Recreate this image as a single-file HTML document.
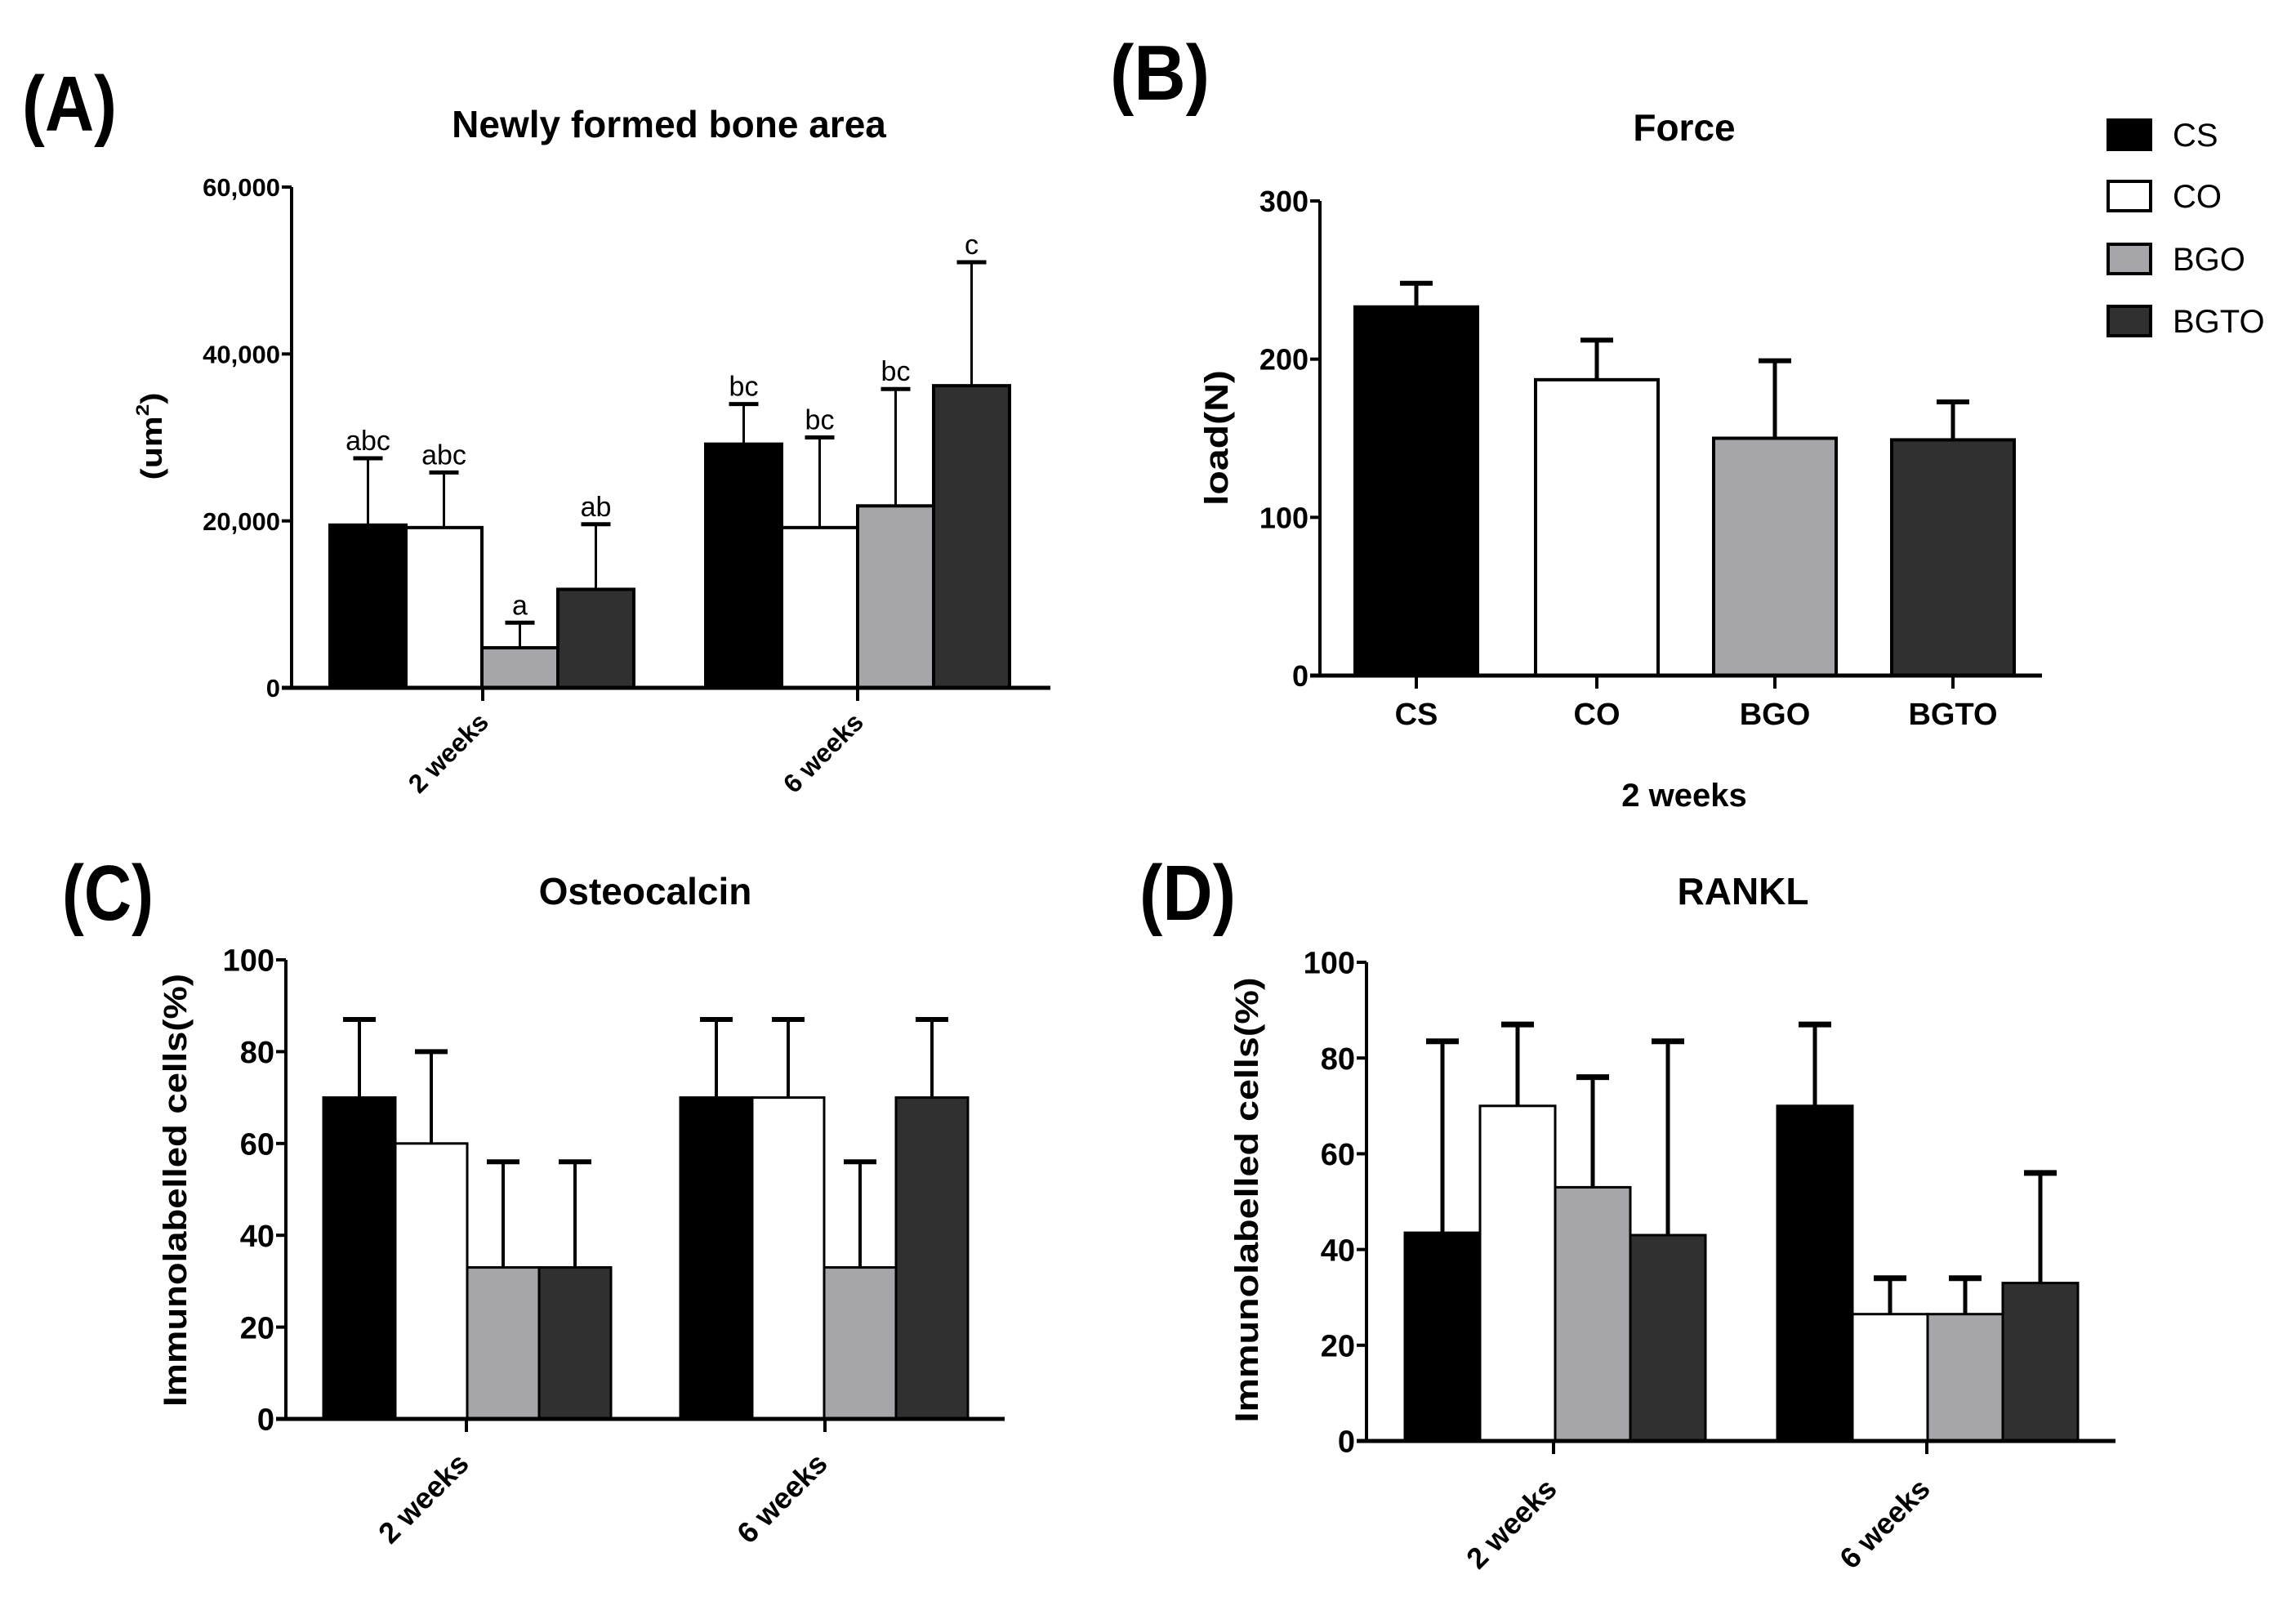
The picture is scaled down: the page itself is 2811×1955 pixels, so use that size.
<!DOCTYPE html>
<html><head><meta charset="utf-8"><style>
html,body{margin:0;padding:0;background:#fff;}
svg{display:block;font-family:"Liberation Sans",Arial,sans-serif;}
</style></head><body>
<svg id="fig" width="2811" height="1955" viewBox="0 0 2811 1955" xmlns="http://www.w3.org/2000/svg">
<rect width="2811" height="1955" fill="#fff"/>
<text x="27" y="160" font-size="96" font-weight="bold" textLength="116" lengthAdjust="spacingAndGlyphs">(A)</text>
<text x="1359" y="122" font-size="96" font-weight="bold" textLength="122" lengthAdjust="spacingAndGlyphs">(B)</text>
<text x="76" y="1126" font-size="96" font-weight="bold" textLength="112" lengthAdjust="spacingAndGlyphs">(C)</text>
<text x="1395" y="1126" font-size="96" font-weight="bold" textLength="118" lengthAdjust="spacingAndGlyphs">(D)</text>
<g id="legend"></g>
</svg>
<script>
// ---- data ----
const seriesNames = ["CS","CO","BGO","BGTO"];
const groupsTime = ["2 weeks","6 weeks"];
// Panel A: newly formed bone area
const aTicks = [0,20000,40000,60000];
const aTickLabels = ["0","20,000","40,000","60,000"];
const aMeans = [[19500,19200,4800,11800],[29200,19200,21800,36200]];
const aErrTop = [[27500,25800,7800,19600],[34000,30000,35800,51000]];
const aLetters = [["abc","abc","a","ab"],["bc","bc","bc","c"]];
// Panel B: force
const bTicks = [0,100,200,300];
const bMeans = [233,187,150,149];
const bErrTop = [248,212,199,173];
// Panel C: osteocalcin
const pctTicks = [0,20,40,60,80,100];
const cMeans = [[70,60,33,33],[70,70,33,70]];
const cErrTop = [[87,80,56,56],[87,87,56,87]];
// Panel D: RANKL
const dMeans = [[43.5,70,53,43],[70,26.5,26.5,33]];
const dErrTop = [[83.5,87,76,83.5],[87,34,34,56]];

const fills = ["#000000","#ffffff","#a6a5a9","#303030"];
const NS = "http://www.w3.org/2000/svg";
const svg = document.getElementById('fig');
function el(tag, attrs, parent, txt){
  const e = document.createElementNS(NS, tag);
  for (const k in attrs) e.setAttribute(k, attrs[k]);
  if (txt !== undefined) e.textContent = txt;
  (parent||svg).appendChild(e);
  return e;
}
function yScale(p, v){ return p.y0 - (v - p.vmin)/(p.vmax - p.vmin)*(p.y0 - p.y1); }

function drawPanel(p){
  const g = el('g', {}, svg);
  
  
  // title
  const t = el('text', {x:p.titleX, y:p.titleY, 'font-size':p.titleSize, 'font-weight':'bold', 'text-anchor':'middle'}, g, p.title);
  
  
  // bars
  p.bars.forEach(b => {
    const yt = yScale(p, b.v);
    const ye = yScale(p, b.e);
    const cx = b.x + b.w/2;
    const ln = el('line', {x1:cx, x2:cx, y1:yt, y2:ye, stroke:'#000', 'stroke-width':p.errW}, g);
    
    
    const cap = el('line', {x1:cx-p.capW/2, x2:cx+p.capW/2, y1:ye, y2:ye, stroke:'#000', 'stroke-width':p.capH}, g);
    
    
    const r = el('rect', {x:b.x, y:yt, width:b.w, height:p.y0-yt, fill:fills[b.s], stroke:'#000', 'stroke-width':p.barStroke}, g);
    
    
    if (b.letter){
      const lt = el('text', {x:cx, y:ye-10, 'font-size':34, 'text-anchor':'middle'}, g, b.letter);
      
      
    }
  });
  // axes
  const ya = el('line', {x1:p.x0, x2:p.x0, y1:p.y1, y2:p.y0+2, stroke:'#000', 'stroke-width':4}, g);
  
  
  const xa = el('line', {x1:p.x0-12, x2:p.xEnd, y1:p.y0, y2:p.y0, stroke:'#000', 'stroke-width':5}, g);
  
  
  p.ticks.forEach((v,i) => {
    const y = yScale(p, v);
    const tk = el('line', {x1:p.x0-12, x2:p.x0, y1:y, y2:y, stroke:'#000', 'stroke-width':4}, g);
    
    
    const tl = el('text', {x:p.x0-14, y:y+p.tickSize*0.36, 'font-size':p.tickSize, 'font-weight':'bold', 'text-anchor':'end', 'font-family':'"Liberation Sans Narrow","Liberation Sans",sans-serif'}, g, p.tickLabels[i]);
    
    
  });
  // x ticks + labels
  p.xTicks.forEach((xt,i) => {
    const tk = el('line', {x1:xt, x2:xt, y1:p.y0, y2:p.y0+16, stroke:'#000', 'stroke-width':4}, g);
    
    
    let tl;
    if (p.rotate){
      const bx = xt + p.rot[0], by = p.y0 + p.rot[1];
      tl = el('text', {x:bx, y:by, 'font-size':p.xSize, 'font-weight':'bold', 'text-anchor':'end', transform:`rotate(-45 ${bx} ${by})`}, g, p.xLabels[i]);
    } else {
      tl = el('text', {x:xt, y:p.y0+60, 'font-size':p.xSize, 'font-weight':'bold', 'text-anchor':'middle'}, g, p.xLabels[i]);
    }
    
    
  });
  // y title
  const yt = el('text', {x:p.yTitleX, y:p.yTitleY, 'font-size':p.yTitleSize, 'font-weight':'bold', 'text-anchor':'middle', transform:`rotate(-90 ${p.yTitleX} ${p.yTitleY})`, textLength:p.yTitleLen, lengthAdjust:'spacingAndGlyphs'}, g);
  
  
  if (p.yTitleSup){
    el('tspan', {}, yt, '(um');
    el('tspan', {'font-size':22, dy:-16}, yt, '2');
    el('tspan', {dy:16}, yt, ')');
  } else yt.textContent = p.yTitle;
  if (p.xTitle){
    const xt = el('text', {x:p.xTitleX, y:p.xTitleY, 'font-size':40, 'font-weight':'bold', 'text-anchor':'middle'}, g, p.xTitle);
    
    
  }
}

function groupedBars(means, errs, letters, starts, barW){
  const out = [];
  means.forEach((grp, gi) => grp.forEach((v, si) => {
    out.push({x:starts[gi] + si*barW, w:barW, v:v, e:errs[gi][si], s:si, label:groupsTime[gi].replace(' ','')+'-'+seriesNames[si], letter: letters ? letters[gi][si] : null});
  }));
  return out;
}

// Panel A
drawPanel({name:'panel-a-bone-area', title:'Newly formed bone area', titleX:819, titleY:168, titleSize:46,
  x0:357, xEnd:1286, y0:842, y1:229, vmin:0, vmax:60000, ticks:aTicks, tickLabels:aTickLabels, tickSize:31,
  bars:groupedBars(aMeans, aErrTop, aLetters, [404,864], 93), errW:3, capW:36, capH:5, barStroke:4,
  xTicks:[591,1050], xLabels:groupsTime, rotate:true, rot:[9,44], xSize:32,
  yTitleX:198, yTitleY:534, yTitleSize:36, yTitleLen:107, yTitleSup:true});

// Panel B
const bBars = bMeans.map((v,i)=>({x:[1659,1880,2098,2316][i], w:150, v:v, e:bErrTop[i], s:i, label:seriesNames[i]}));
drawPanel({name:'panel-b-force', title:'Force', titleX:2062, titleY:172, titleSize:46,
  x0:1616, xEnd:2500, y0:827, y1:246, vmin:0, vmax:300, ticks:bTicks, tickLabels:bTicks.map(String), tickSize:36,
  bars:bBars, errW:5, capW:40, capH:6, barStroke:4,
  xTicks:bBars.map(b=>b.x+b.w/2), xLabels:seriesNames, rotate:false, xSize:38,
  yTitleX:1503, yTitleY:536, yTitleSize:40, yTitleLen:166, yTitle:'load(N)',
  xTitle:'2 weeks', xTitleX:2062, xTitleY:987});

// Panel C
drawPanel({name:'panel-c-osteocalcin', title:'Osteocalcin', titleX:790, titleY:1107, titleSize:46,
  x0:350, xEnd:1230, y0:1737, y1:1175, vmin:0, vmax:100, ticks:pctTicks, tickLabels:pctTicks.map(String), tickSize:38,
  bars:groupedBars(cMeans, cErrTop, null, [396,833], 88), errW:4, capW:40, capH:6, barStroke:3,
  xTicks:[571,1010], xLabels:groupsTime, rotate:true, rot:[5,57], xSize:36,
  yTitleX:228, yTitleY:1457, yTitleSize:40, yTitleLen:530, yTitle:'Immunolabelled cells(%)'});

// Panel D
drawPanel({name:'panel-d-rankl', title:'RANKL', titleX:2134, titleY:1107, titleSize:46,
  x0:1673, xEnd:2590, y0:1764, y1:1178, vmin:0, vmax:100, ticks:pctTicks, tickLabels:pctTicks.map(String), tickSize:38,
  bars:groupedBars(dMeans, dErrTop, null, [1720,2176], 92), errW:5, capW:40, capH:7, barStroke:3,
  xTicks:[1902,2359], xLabels:groupsTime, rotate:true, rot:[6,61], xSize:36,
  yTitleX:1540, yTitleY:1469, yTitleSize:40, yTitleLen:545, yTitle:'Immunolabelled cells(%)'});

// Legend
const lg = document.getElementById('legend');
const legendY = [145,220,297,373];
seriesNames.forEach((n,i) => {
  const r = el('rect', {x:2581, y:legendY[i]+2, width:52, height:36, fill:fills[i], stroke:'#000', 'stroke-width':4}, lg);
  
  
  const t = el('text', {x:2660, y:legendY[i]+34, 'font-size':40}, lg, n);
  
  
});
</script>
</body></html>
